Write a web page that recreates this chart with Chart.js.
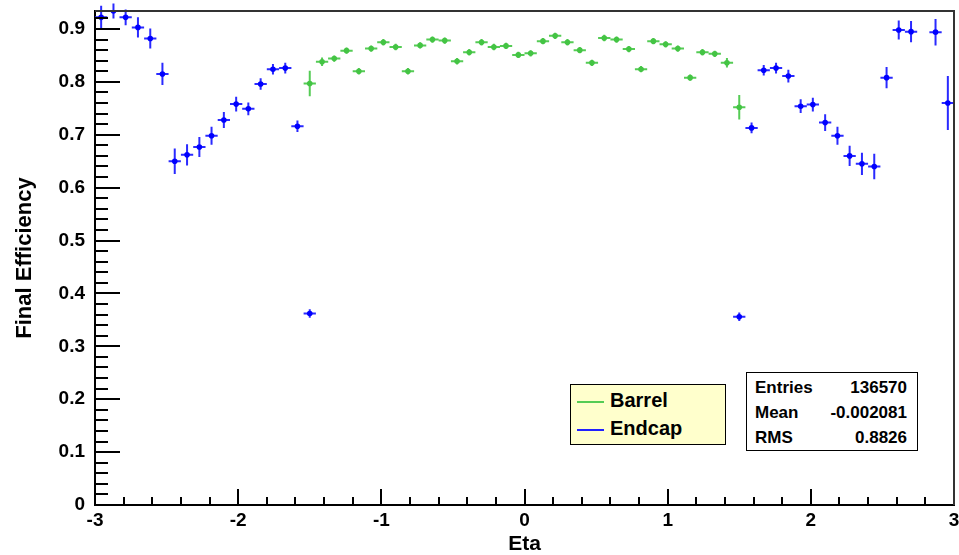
<!DOCTYPE html>
<html>
<head>
<meta charset="utf-8">
<script src="https://cdn.jsdelivr.net/npm/chart.js@4.4.1/dist/chart.umd.min.js"></script>
<style>
    body { margin: 0; background: #fff; }
    #wrap { position: relative; width: 959px; height: 555px; font-family: 'Liberation Sans', Arial, sans-serif; }
    #legend {
        position: absolute; left: 570px; top: 384px; width: 156px; height: 61px;
        background: #ffffcc; border: 1px solid #000; box-sizing: border-box;
        font-weight: bold; font-size: 20px; color: #000;
    }
    #legend .row { position: absolute; left: 6px; height: 24px; line-height: 24px; white-space: nowrap; }
    #legend .sw { display: inline-block; width: 27px; height: 0; border-top: 2px solid; vertical-align: middle; margin-right: 6px; }
    #stats {
        position: absolute; left: 746px; top: 372px; width: 172px; height: 79px;
        background: #fff; border: 1.5px solid #000; box-sizing: border-box;
        font-weight: bold; font-size: 17px; color: #000;
    }
    #stats .row { position: absolute; left: 8px; right: 10px; height: 22px; line-height: 22px; }
    #stats .row span:last-child { float: right; }
</style>
</head>
<body>
<div id="wrap">
    <canvas id="effChart" width="959" height="555"></canvas>
    <div id="legend">
        <div class="row" style="top:3px"><span class="sw" style="border-color:#55cc55"></span>Barrel</div>
        <div class="row" style="top:31px"><span class="sw" style="border-color:#2020ff"></span>Endcap</div>
    </div>
    <div id="stats">
        <div class="row" style="top:4px"><span>Entries</span><span>136570</span></div>
        <div class="row" style="top:29px"><span>Mean</span><span>-0.002081</span></div>
        <div class="row" style="top:54px"><span>RMS</span><span>0.8826</span></div>
    </div>
</div>
<script>
// ===== DATA =====
// 70 eta bins from -3 to 3
const binCenters = [
    -2.957, -2.871, -2.786, -2.700, -2.614, -2.529, -2.443, -2.357, -2.271, -2.186,
    -2.100, -2.014, -1.929, -1.843, -1.757, -1.671, -1.586, -1.500, -1.414, -1.329,
    -1.243, -1.157, -1.071, -0.986, -0.900, -0.814, -0.729, -0.643, -0.557, -0.471,
    -0.386, -0.300, -0.214, -0.129, -0.043,  0.043,  0.129,  0.214,  0.300,  0.386,
     0.471,  0.557,  0.643,  0.729,  0.814,  0.900,  0.986,  1.071,  1.157,  1.243,
     1.329,  1.414,  1.500,  1.586,  1.671,  1.757,  1.843,  1.929,  2.014,  2.100,
     2.186,  2.271,  2.357,  2.443,  2.529,  2.614,  2.700,  2.786,  2.871,  2.957
];
const binHalfWidth = 0.0429;

// Barrel: bins 17..52
const barrelEta = binCenters.slice(17, 53);
const barrelEff = [
    0.797, 0.838, 0.844, 0.859, 0.820, 0.863, 0.875, 0.866, 0.820, 0.869,
    0.880, 0.878, 0.839, 0.856, 0.875, 0.866, 0.868, 0.851, 0.854, 0.877,
    0.887, 0.875, 0.860, 0.836, 0.883, 0.880, 0.862, 0.824, 0.877, 0.871,
    0.863, 0.808, 0.856, 0.853, 0.836, 0.752
];
const barrelErr = [
    0.024, 0.008, 0.006, 0.006, 0.006, 0.006, 0.006, 0.006, 0.006, 0.006,
    0.006, 0.006, 0.006, 0.006, 0.006, 0.006, 0.006, 0.006, 0.006, 0.006,
    0.006, 0.006, 0.006, 0.006, 0.006, 0.006, 0.006, 0.006, 0.006, 0.006,
    0.006, 0.006, 0.006, 0.006, 0.009, 0.023
];

// Endcap: bins 0..17 and 52..69
const endcapEta = binCenters.slice(0, 18).concat(binCenters.slice(52));
const endcapEff = [
    0.922, 0.934, 0.922, 0.903, 0.882, 0.815, 0.650, 0.662, 0.677, 0.698,
    0.728, 0.758, 0.749, 0.796, 0.824, 0.826, 0.716, 0.362,
    0.356, 0.713, 0.822, 0.826, 0.811, 0.754, 0.757, 0.723, 0.698, 0.660,
    0.645, 0.640, 0.808, 0.898, 0.895, null, 0.894, 0.760
];
const endcapErr = [
    0.022, 0.014, 0.015, 0.019, 0.019, 0.021, 0.024, 0.020, 0.019, 0.017,
    0.015, 0.014, 0.012, 0.011, 0.010, 0.010, 0.011, 0.008,
    0.008, 0.010, 0.010, 0.010, 0.012, 0.013, 0.013, 0.016, 0.017, 0.019,
    0.021, 0.024, 0.020, 0.018, 0.020, null, 0.025, 0.051
];

const yTicks = [0, 0.1, 0.2, 0.3, 0.4, 0.5, 0.6, 0.7, 0.8, 0.9];
const xTicks = [-3, -2, -1, 0, 1, 2, 3];

// ===== ERROR BARS (bin width + vertical error) =====
const errorBars = {
    id: 'errorBars',
    beforeDatasetsDraw(chart) {
        const { ctx, scales: { x, y } } = chart;
        ctx.save();
        ctx.lineWidth = 2;
        chart.data.datasets.forEach(ds => {
            ctx.strokeStyle = ds.barColor;
            ctx.beginPath();
            ds.data.forEach((p, i) => {
                if (p.y == null) return;
                const py = y.getPixelForValue(p.y);
                ctx.moveTo(x.getPixelForValue(p.x - binHalfWidth), py);
                ctx.lineTo(x.getPixelForValue(p.x + binHalfWidth), py);
                const px = x.getPixelForValue(p.x);
                ctx.moveTo(px, y.getPixelForValue(p.y - ds.errors[i]));
                ctx.lineTo(px, y.getPixelForValue(p.y + ds.errors[i]));
            });
            ctx.stroke();
        });
        ctx.restore();
    }
};

// ===== ROOT STYLE FRAME AND INWARD TICKS =====
const rootFrame = {
    id: 'rootFrame',
    afterDraw(chart) {
        const { ctx, chartArea: a, scales: { x, y } } = chart;
        ctx.save();
        ctx.strokeStyle = '#000';
        ctx.lineWidth = 2;
        ctx.beginPath();
        for (let k = 0; k * 0.02 <= y.max + 1e-9; k++) {
            const py = Math.round(y.getPixelForValue(k * 0.02));
            const len = k % 5 === 0 ? 25 : 13;
            ctx.moveTo(a.left, py);
            ctx.lineTo(a.left + len, py);
        }
        for (let k = 0; k <= 30; k++) {
            const px = Math.round(x.getPixelForValue(-3 + k * 0.2));
            const len = k % 5 === 0 ? 16 : 8;
            ctx.moveTo(px, a.bottom);
            ctx.lineTo(px, a.bottom - len);
        }
        ctx.stroke();

        // top and right frame
        ctx.strokeStyle = '#333';
        ctx.lineWidth = 2;
        ctx.beginPath();
        ctx.moveTo(a.left, a.top);
        ctx.lineTo(a.right, a.top);
        ctx.lineTo(a.right, a.bottom);
        ctx.stroke();
        ctx.restore();
    }
};

function fmtTick(list) {
    return function(value) {
        const hit = list.find(t => Math.abs(t - value) < 1e-6);
        return hit === undefined ? '' : String(hit);
    };
}

// ===== CHART =====
new Chart(document.getElementById('effChart'), {
    type: 'scatter',
    data: {
        datasets: [
            {
                label: 'Barrel',
                data: barrelEta.map((e, i) => ({ x: e, y: barrelEff[i] })),
                errors: barrelErr,
                barColor: '#55cc55',
                backgroundColor: '#44c444',
                borderColor: '#44c444',
                pointRadius: 2.8,
                pointBorderWidth: 0,
                showLine: false
            },
            {
                label: 'Endcap',
                data: endcapEta.map((e, i) => ({ x: e, y: endcapEff[i] })),
                errors: endcapErr,
                barColor: '#2a2aff',
                backgroundColor: '#0000ff',
                borderColor: '#0000ff',
                pointRadius: 2.8,
                pointBorderWidth: 0,
                showLine: false
            }
        ]
    },
    options: {
        responsive: false,
        devicePixelRatio: 1,
        animation: false,
        layout: { padding: { top: 11, right: 5, left: 0, bottom: 0 } },
        plugins: {
            legend: { display: false },
            tooltip: { enabled: false }
        },
        scales: {
            x: {
                type: 'linear',
                min: -3,
                max: 3,
                afterFit: s => { s.height = 50; s.paddingLeft = 0; s.paddingRight = 0; },
                afterBuildTicks: s => { s.ticks = xTicks.map(v => ({ value: v })); },
                grid: { display: false, drawTicks: false },
                border: { display: true, color: '#000', width: 2 },
                ticks: {
                    color: '#000',
                    font: { family: 'Liberation Sans', size: 19, weight: 'bold' },
                    padding: 4,
                    maxRotation: 0,
                    callback: fmtTick(xTicks)
                },
                title: {
                    display: true,
                    text: 'Eta',
                    color: '#000',
                    font: { family: 'Liberation Sans', size: 21, weight: 'bold', lineHeight: 1.0 },
                    padding: { top: 0, bottom: 0 }
                }
            },
            y: {
                type: 'linear',
                min: 0,
                max: 0.934,
                afterFit: s => { s.width = 95; s.paddingTop = 0; s.paddingBottom = 0; },
                afterBuildTicks: s => { s.ticks = yTicks.map(v => ({ value: v })); },
                grid: { display: false, drawTicks: false },
                border: { display: true, color: '#000', width: 2 },
                ticks: {
                    color: '#000',
                    font: { family: 'Liberation Sans', size: 19, weight: 'bold' },
                    padding: 10,
                    callback: fmtTick(yTicks)
                },
                title: {
                    display: true,
                    text: 'Final Efficiency',
                    color: '#000',
                    font: { family: 'Liberation Sans', size: 22, weight: 'bold', lineHeight: 1.0 },
                    padding: { top: 14, bottom: 0 }
                }
            }
        }
    },
    plugins: [errorBars, rootFrame]
});
</script>
</body>
</html>
